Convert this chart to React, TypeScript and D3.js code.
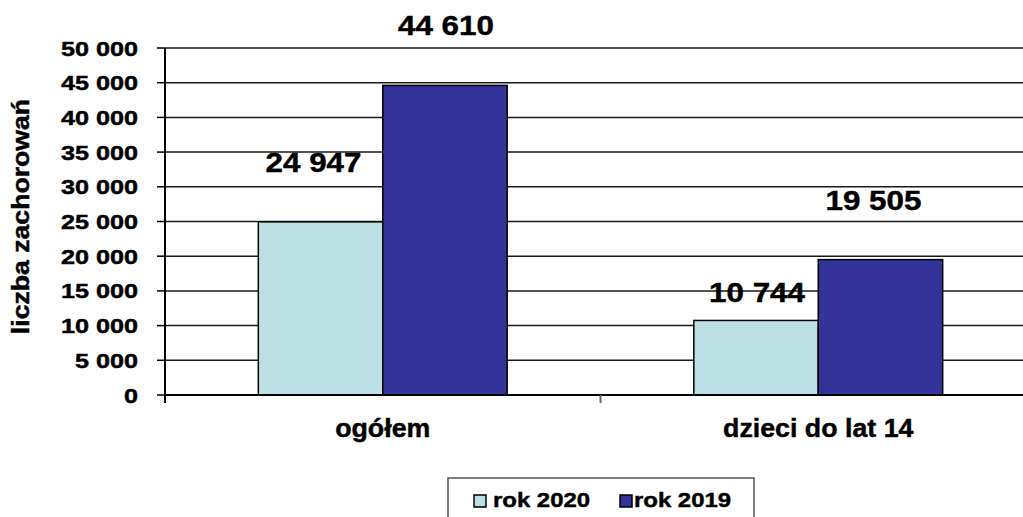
import { useMemo } from 'react'
import * as d3 from 'd3'

const CATEGORIES = ['ogółem', 'dzieci do lat 14']
const SERIES = ['rok 2020', 'rok 2019']
const VALUES_2020 = [24947, 10744]
const VALUES_2019 = [44610, 19505]
const Y_TICKS = [0, 5000, 10000, 15000, 20000, 25000, 30000, 35000, 40000, 45000, 50000]
const Y_TITLE = 'liczba zachorowań'

const COLORS = ['#bce0e3', '#333399']
// manual label nudges (px) per series/category, like the hand-placed labels in the original
const LABEL_NUDGE = [
  [[-7, 0], [1, 32]],
  [[1, 0], [-7, 0]],
]

const W = 1023
const H = 517
const margin = { top: 48, right: -13, bottom: 122, left: 165 }
const FONT = '"Liberation Sans", Arial, sans-serif'

const fmt = (v: number) => d3.format(',')(v).replace(/,/g, ' ')

// text with a horizontal stretch, the original renders its bold Arial wider
function SText({
  x,
  y,
  size,
  sx = 1,
  anchor = 'start',
  rotate = 0,
  children,
}: {
  x: number
  y: number
  size: number
  sx?: number
  anchor?: 'start' | 'middle' | 'end'
  rotate?: number
  children: React.ReactNode
}) {
  return (
    <g transform={`translate(${x},${y}) rotate(${rotate}) scale(${sx},1)`}>
      <text textAnchor={anchor} fontSize={size} fill="#000" stroke="#000" strokeWidth={0.45}>
        {children}
      </text>
    </g>
  )
}

export default function App() {
  const x = useMemo(
    () => d3.scaleBand<string>().domain(CATEGORIES).range([margin.left, W - margin.right]).padding(0),
    [],
  )
  const y = useMemo(
    () => d3.scaleLinear().domain([0, 50000]).range([H - margin.bottom, margin.top]),
    [],
  )
  const inner = d3
    .scaleBand<string>()
    .domain(SERIES)
    .range([0, x.bandwidth()])
    .paddingInner(0)
    .paddingOuter(0.75)

  const series = [VALUES_2020, VALUES_2019]
  const y0 = y(0)

  return (
    <svg
      width={W}
      height={H}
      style={{ position: 'absolute', left: 0, top: 0, background: '#fff' }}
      fontFamily={FONT}
      fontWeight="bold"
    >
      {/* grid */}
      {Y_TICKS.filter((t) => t > 0).map((t) => (
        <line key={t} x1={margin.left} x2={W} y1={y(t)} y2={y(t)} stroke="#1a1a1a" strokeWidth={1.5} />
      ))}
      {/* y ticks + labels */}
      {Y_TICKS.map((t) => (
        <g key={t}>
          <line x1={margin.left - 8} x2={margin.left} y1={y(t)} y2={y(t)} stroke="#000" strokeWidth={1.5} />
          <SText x={138} y={y(t) + 7.5} size={21} sx={1.2} anchor="end">
            {fmt(t)}
          </SText>
        </g>
      ))}
      {/* bars */}
      {series.map((vals, si) =>
        vals.map((v, ci) => {
          const bx = (x(CATEGORIES[ci]) ?? 0) + (inner(SERIES[si]) ?? 0)
          return (
            <rect
              key={`${si}-${ci}`}
              x={bx}
              y={y(v)}
              width={inner.bandwidth()}
              height={y0 - y(v)}
              fill={COLORS[si]}
              stroke="#000"
              strokeWidth={1.5}
            />
          )
        }),
      )}
      {/* value labels */}
      {series.map((vals, si) =>
        vals.map((v, ci) => {
          const cx = (x(CATEGORIES[ci]) ?? 0) + (inner(SERIES[si]) ?? 0) + inner.bandwidth() / 2
          const [dx, dy] = LABEL_NUDGE[si][ci]
          return (
            <SText key={`l-${si}-${ci}`} x={cx + dx} y={y(v) - 50 + dy} size={28} sx={1.12} anchor="middle">
              {fmt(v)}
            </SText>
          )
        }),
      )}
      {/* axes */}
      <line x1={margin.left} x2={margin.left} y1={margin.top} y2={y0 + 8} stroke="#000" strokeWidth={2} />
      <line x1={margin.left} x2={W} y1={y0} y2={y0} stroke="#000" strokeWidth={2} />
      {CATEGORIES.map((c, i) =>
        i > 0 ? (
          <line key={c} x1={x(c)} x2={x(c)} y1={y0} y2={y0 + 8} stroke="#666" strokeWidth={2} />
        ) : null,
      )}
      {CATEGORIES.map((c) => (
        <SText key={c} x={(x(c) ?? 0) + x.bandwidth() / 2} y={437} size={26} sx={1.03} anchor="middle">
          {c}
        </SText>
      ))}
      {/* y title */}
      <SText x={29} y={(margin.top + y0) / 2 - 5} size={24} sx={1.11} anchor="middle" rotate={-90}>
        {Y_TITLE}
      </SText>
      {/* legend */}
      <rect x={448} y={478} width={306} height={50} fill="#fff" stroke="#555" strokeWidth={1.5} />
      {SERIES.map((s, i) => {
        const lx = i === 0 ? 474 : 620
        return (
          <g key={s}>
            <rect x={lx} y={495} width={12} height={12} fill={COLORS[i]} stroke="#000" strokeWidth={1.5} />
            <SText x={lx + (i === 0 ? 19 : 14)} y={507} size={21} sx={1.14}>
              {s}
            </SText>
          </g>
        )
      })}
    </svg>
  )
}
